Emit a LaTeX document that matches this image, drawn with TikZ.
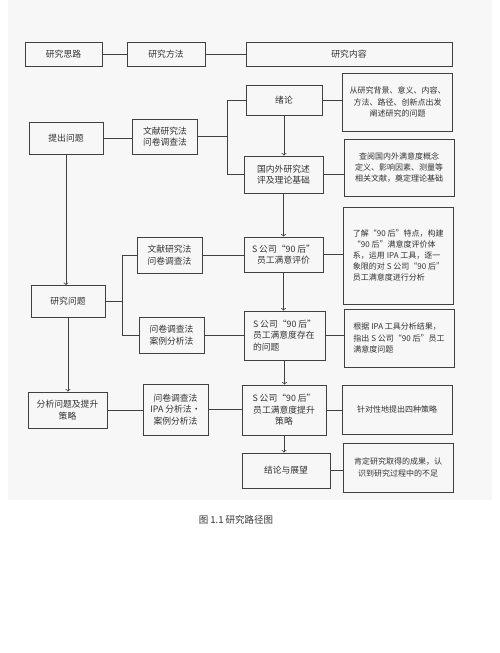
\documentclass[tikz,border=0pt]{standalone}
\usepackage{fontspec}
\setmainfont{Noto Sans CJK SC}
\usepackage{tikz}
\usetikzlibrary{arrows,positioning}
\tikzset{
     stage/.style={draw=black!75, rectangle, inner sep=1pt, text=black!80, align=center, font=\fontsize{8.8}{11.5}\selectfont},
     stage1/.style={stage, minimum height=32},
     stage2/.style={stage, minimum width=65},
     stage3/.style={stage, minimum width=80},
     stage4/.style={stage, minimum width=110, font=\fontsize{8}{11.2}\selectfont},
     link/.style={draw=black!75, line width=0.8pt},
}
\tikzset{>=to}
\def\ux{1pt}
\def\uy{-1pt}

\begin{document}
\begin{tikzpicture}[x=\ux,y=\uy, line width=0.8pt]
		\useasboundingbox (0,0) rectangle (500,653);
		\fill[black!3] (8,0) rectangle (492,500);

		% top row
		\node[stage, minimum width=77, minimum height=24] (sl) at (63.5,54) {研究思路};
		\node[stage, minimum width=78, minimum height=24] (ff) at (166,54) {研究方法};
		\node[stage, minimum width=206, minimum height=24] (nr) at (349,54) {研究内容};

		% left column
		\node[stage1, minimum width=74] (tc) at (66,138) {提出问题};
		\node[stage1, minimum width=74] (yj) at (68,301.5) {研究问题};
		\node[stage1, minimum width=79, minimum height=36] (fx) at (67.5,410) {分析问题及提升\\策略};

		% methods
		\node[stage2, minimum height=35] (m1) at (165,136.5) {文献研究法\\问卷调查法};
		\node[stage2, minimum height=36] (m2) at (169.5,255) {文献研究法\\问卷调查法};
		\node[stage2, minimum height=36] (m3) at (171.5,335) {问卷调查法\\案例分析法};
		\node[stage2, minimum height=51] (m4) at (175.5,409.5) {问卷调查法\\IPA 分析法·\\案例分析法};

		% content
		\node[stage3, minimum width=76, minimum height=30] (xl) at (284,100) {绪论};
		\node[stage3, minimum width=79, minimum height=37] (gn) at (283.5,174.5) {国内外研究述\\评及理论基础};
		\node[stage3, minimum width=79, minimum height=35] (pj) at (283.5,254.5) {S 公司“90 后”\\员工满意评价};
		\node[stage3, minimum width=81, minimum height=49, align=left] (wt) at (284.5,335.5) {S 公司“90 后”\\员工满意度存在\\的问题};
		\node[stage3, minimum width=84, minimum height=50] (ts) at (284,410) {S 公司“90 后”\\员工满意度提升\\策略};
		\node[stage3, minimum width=88, minimum height=35] (jl) at (286,470.5) {结论与展望};

		% details
		\node[stage4, minimum height=58] (d1) at (397.5,102) {从研究背景、意义、内容、\\方法、路径、创新点出发\\阐述研究的问题};
		\node[stage4, minimum height=57] (d2) at (399,167.5) {查阅国内外满意度概念\\定义、影响因素、测量等\\相关文献，奠定理论基础};
		\node[stage4, minimum height=97, align=left] (d3) at (398.5,255.5) {了解“90 后”特点，构建\\“90 后”满意度评价体\\系，运用 IPA 工具，逐一\\象限的对 S 公司“90 后”\\员工满意度进行分析};
		\node[stage4, minimum height=58, align=left] (d4) at (399,338) {根据 IPA 工具分析结果，\\指出 S 公司“90 后”员工\\满意度问题};
		\node[stage4, minimum height=49] (d5) at (397,409.5) {针对性地提出四种策略};
		\node[stage4, minimum height=49] (d6) at (398,467.5) {肯定研究取得的成果，认\\识到研究过程中的不足};

		\node[text=black!80, font=\fontsize{9.5}{11}\selectfont] (cap) at (236,520) {图 1.1 研究路径图};

		\draw[link] (sl) -- (ff);
		\draw[link] (ff) -- (nr);

		\draw[link,->] (tc.south) -- (tc.south |- yj.north);
		\draw[link,->] (yj.south) -- (yj.south |- fx.north);
		\draw[link] (tc.east) -- (tc.east -| m1.west);
		\draw[link] (xl.west) -- ++(-18,0) coordinate (b1) |- (gn.west);
		\draw[link] (m1.east) -- (m1.east -| b1);
		\draw[link] (m2.west) -- ++(-14,0) coordinate (b2) |- (m3.west);
		\draw[link] (yj.east) -- (yj.east -| b2);
		\draw[link] (fx.east) -- (fx.east -| m4.west);

		\draw[link] (m2.east) -- (m2.east -| pj.west);
		\draw[link] (m3.east) -- (m3.east -| wt.west);
		\draw[link] (m4.east) -- (m4.east -| ts.west);

		\draw[link,->] (xl.south) -- (xl.south |- gn.north);
		\draw[link,->] (gn.south) -- (gn.south |- pj.north);
		\draw[link,->] (pj.south) -- (pj.south |- wt.north);
		\draw[link,->] (wt.south) -- (wt.south |- ts.north);
		\draw[link,->] (ts.south) -- (ts.south |- jl.north);

		\draw[link] (xl.east) -- (xl.east -| d1.west);
		\draw[link] (gn.east) -- (gn.east -| d2.west);
		\draw[link] (pj.east) -- (pj.east -| d3.west);
		\draw[link] (wt.east) -- (wt.east -| d4.west);
		\draw[link] (ts.east) -- (ts.east -| d5.west);
		\draw[link] (jl.east) -- (jl.east -| d6.west);
		\end{tikzpicture}
\end{document}
